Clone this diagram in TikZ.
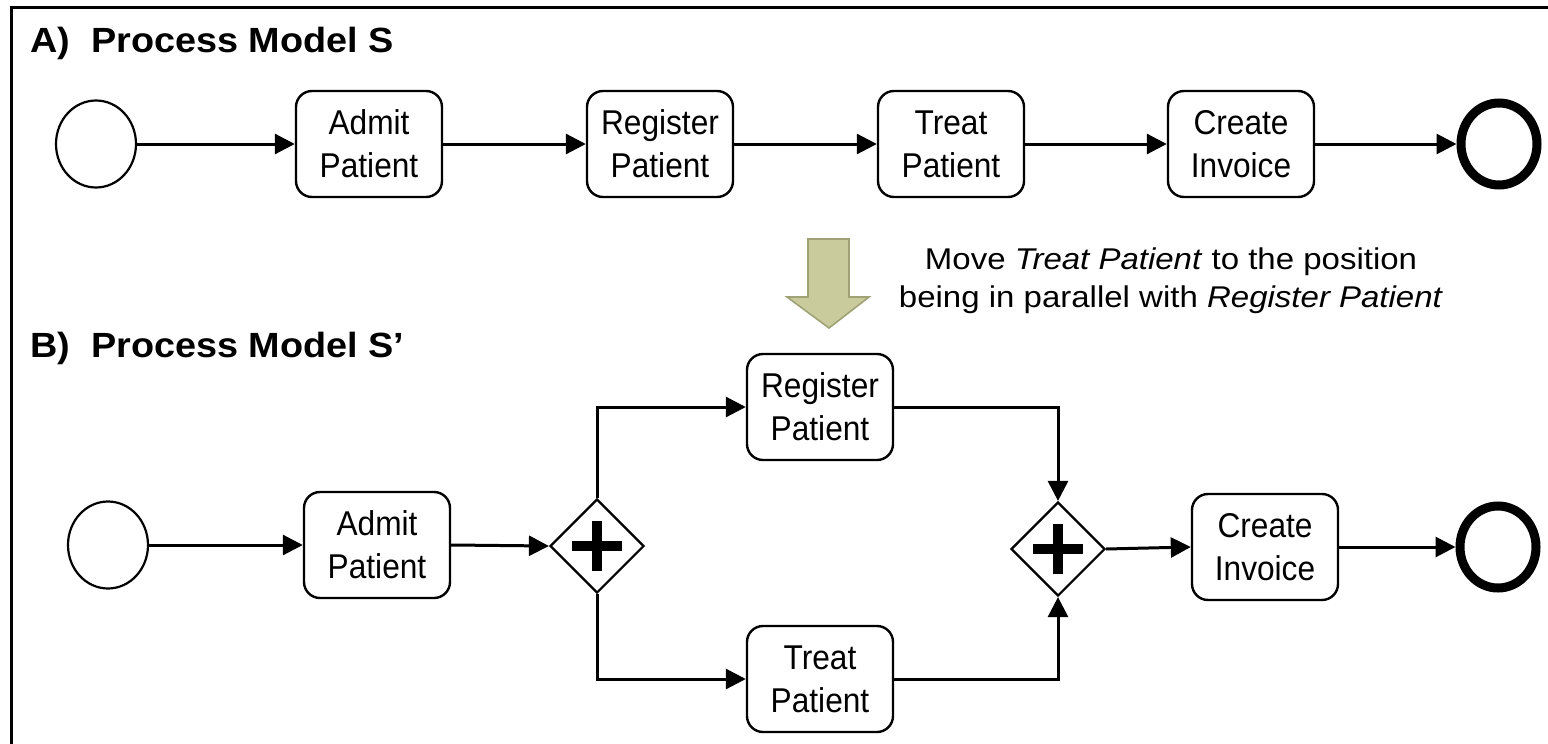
\documentclass[tikz,border=0pt]{standalone}
\usepackage{fontspec}
\setmainfont{Liberation Sans}
\newfontfamily\taskfont{Liberation Sans}[FakeStretch=0.92]
\newfontfamily\headfont{Liberation Sans}[FakeStretch=1.08]
\newfontfamily\notefont{Liberation Sans}[FakeStretch=1.1]
\usetikzlibrary{arrows.meta,shapes.geometric}

\definecolor{movefill}{RGB}{201,203,156}
\definecolor{moveedge}{RGB}{158,162,116}

\tikzset{
  task/.style={draw, line width=1.2pt, rounded corners=8pt,
    minimum width=73pt, minimum height=53pt, inner sep=0pt,
    align=center, font=\taskfont\fontsize{17.2}{21.5}\selectfont},
  startev/.style={ellipse, draw, line width=1.1pt, inner sep=0pt,
    minimum width=40pt, minimum height=43.5pt},
  endev/.style={ellipse, draw, line width=4.5pt, inner sep=0pt,
    minimum width=38pt, minimum height=41pt},
  andgw/.style={diamond, draw, line width=1.1pt, inner sep=0pt,
    minimum size=47pt},
  flow/.style={line width=1.5pt, -{Triangle[length=10pt,width=10pt]}},
  plusbar/.style={line width=5pt},
  heading/.style={anchor=base west, inner sep=0pt,
    font=\headfont\fontsize{17.5}{20}\selectfont\bfseries},
  note/.style={align=center, inner sep=0pt,
    font=\notefont\fontsize{15}{19}\selectfont},
}

% draws the "+" marker of a parallel gateway
\newcommand{\plusmark}[1]{%
  \draw[plusbar] ([xshift=-12.5pt]#1.center) -- ([xshift=12.5pt]#1.center);
  \draw[plusbar] ([yshift=-12.5pt]#1.center) -- ([yshift=12.5pt]#1.center);}

\begin{document}
\begin{tikzpicture}[x=0.5pt, y=-0.5pt]
  \useasboundingbox (0,0) rectangle (1548,744);

  % frame
  \draw[line width=1.5pt] (11,744) -- (11,7.5) -- (1548,7.5);

  % ---- A) original model
  \node[heading] (titleA) at (30,53) {A)\ \ Process Model S};

  \node[startev] (sA)   at (96,144)   {};
  \node[task]    (admA) at (369,144)  {Admit\\Patient};
  \node[task]    (regA) at (660,144)  {Register\\Patient};
  \node[task]    (trA)  at (951,144)  {Treat\\Patient};
  \node[task]    (invA) at (1241,144) {Create\\Invoice};
  \node[endev]   (eA)   at (1499,144) {};

  \draw[flow] (sA) -- (admA);
  \draw[flow] (admA) -- (regA);
  \draw[flow] (regA) -- (trA);
  \draw[flow] (trA) -- (invA);
  \draw[flow] (invA) -- (eA);

  % ---- change operation
  \filldraw[fill=movefill, draw=moveedge, line width=0.8pt]
    (808,239) -- (849,239) -- (849,297) -- (869,297) -- (829,328)
    -- (787,297) -- (808,297) -- cycle;
  \node[note] (move) at (1171,281)
    {Move \textit{Treat Patient} to the position\\
     being in parallel with \textit{Register Patient}};

  % ---- B) changed model
  \node[heading] (titleB) at (30,357) {B)\ \ Process Model S’};

  \node[startev] (sB)   at (108,545)  {};
  \node[task]    (admB) at (377,545)  {Admit\\Patient};
  \node[andgw]   (g1)   at (597,546)  {};
  \node[task]    (regB) at (820,407)  {Register\\Patient};
  \node[task]    (trB)  at (820,679)  {Treat\\Patient};
  \node[andgw]   (g2)   at (1058,549) {};
  \node[task]    (invB) at (1265,547) {Create\\Invoice};
  \node[endev]   (eB)   at (1498,547) {};

  \plusmark{g1}
  \plusmark{g2}

  \draw[flow] (sB) -- (admB);
  \draw[flow] (admB.east) -- (g1.west);
  \draw[flow] (g1.north) |- (regB.west);
  \draw[flow] (g1.south) |- (trB.west);
  \draw[flow] (regB.east) -| (g2.north);
  \draw[flow] (trB.east) -| (g2.south);
  \draw[flow] (g2.east) -- (invB.west);
  \draw[flow] (invB) -- (eB);
\end{tikzpicture}
\end{document}
